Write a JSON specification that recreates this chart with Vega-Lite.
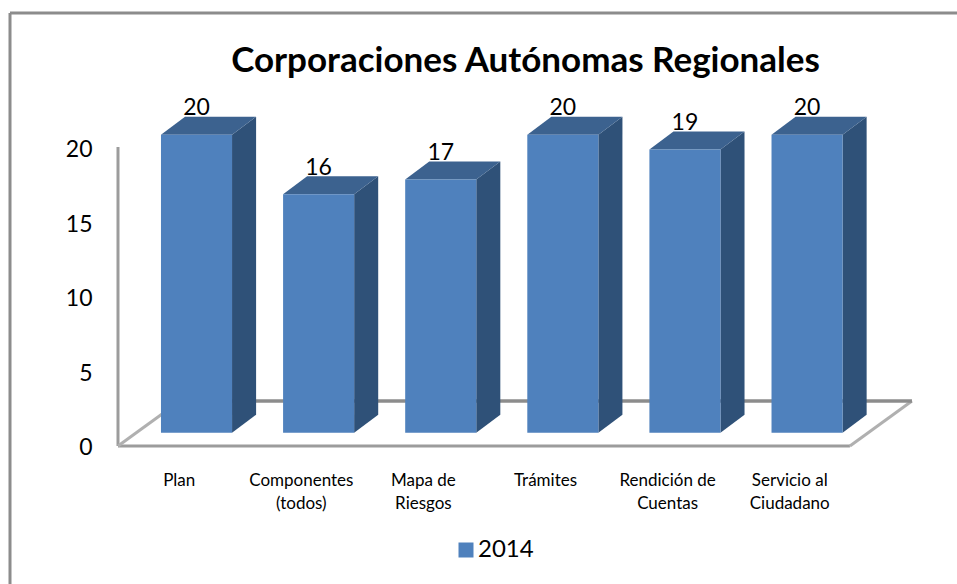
{
"$schema":"https://vega.github.io/schema/vega-lite/v6.json",
"width":947,"height":571,
"autosize":{"type":"none"},
"padding":{"left":10,"top":13,"right":0,"bottom":0},
"background":"white",
"config":{"view":{"stroke":null},"font":"Lato"},
"title":{"text":"Corporaciones Autónomas Regionales","font":"Lato","fontSize":35,"fontWeight":"bold","color":"#000000","anchor":"middle","dx":42,"dy":42,"offset":-60,"baseline":"bottom"},
"datasets":{
"bars":[
{"categoria":"Plan","serie":"2014","valor":20,"pos":1,"izq":0.709,"der":1.291,"base":0.893,"tope":20.893},
{"categoria":"Componentes (todos)","serie":"2014","valor":16,"pos":2,"izq":1.709,"der":2.291,"base":0.893,"tope":16.893},
{"categoria":"Mapa de Riesgos","serie":"2014","valor":17,"pos":3,"izq":2.709,"der":3.291,"base":0.893,"tope":17.893},
{"categoria":"Trámites","serie":"2014","valor":20,"pos":4,"izq":3.709,"der":4.291,"base":0.893,"tope":20.893},
{"categoria":"Rendición de Cuentas","serie":"2014","valor":19,"pos":5,"izq":4.709,"der":5.291,"base":0.893,"tope":19.893},
{"categoria":"Servicio al Ciudadano","serie":"2014","valor":20,"pos":6,"izq":5.709,"der":6.291,"base":0.893,"tope":20.893}
],
"lados":[
{"b":1,"x":1.291,"a":0.893,"c":20.893},{"b":1,"x":1.488,"a":2.101,"c":22.101},
{"b":2,"x":2.291,"a":0.893,"c":16.893},{"b":2,"x":2.488,"a":2.101,"c":18.101},
{"b":3,"x":3.291,"a":0.893,"c":17.893},{"b":3,"x":3.488,"a":2.101,"c":19.101},
{"b":4,"x":4.291,"a":0.893,"c":20.893},{"b":4,"x":4.488,"a":2.101,"c":22.101},
{"b":5,"x":5.291,"a":0.893,"c":19.893},{"b":5,"x":5.488,"a":2.101,"c":21.101},
{"b":6,"x":6.291,"a":0.893,"c":20.893},{"b":6,"x":6.488,"a":2.101,"c":22.101}
],
"techos":[
{"b":1,"x":0.709,"a":20.893,"c":20.893},{"b":1,"x":0.906,"a":20.893,"c":22.101},{"b":1,"x":1.291,"a":20.893,"c":22.101},{"b":1,"x":1.488,"a":22.101,"c":22.101},
{"b":2,"x":1.709,"a":16.893,"c":16.893},{"b":2,"x":1.906,"a":16.893,"c":18.101},{"b":2,"x":2.291,"a":16.893,"c":18.101},{"b":2,"x":2.488,"a":18.101,"c":18.101},
{"b":3,"x":2.709,"a":17.893,"c":17.893},{"b":3,"x":2.906,"a":17.893,"c":19.101},{"b":3,"x":3.291,"a":17.893,"c":19.101},{"b":3,"x":3.488,"a":19.101,"c":19.101},
{"b":4,"x":3.709,"a":20.893,"c":20.893},{"b":4,"x":3.906,"a":20.893,"c":22.101},{"b":4,"x":4.291,"a":20.893,"c":22.101},{"b":4,"x":4.488,"a":22.101,"c":22.101},
{"b":5,"x":4.709,"a":19.893,"c":19.893},{"b":5,"x":4.906,"a":19.893,"c":21.101},{"b":5,"x":5.291,"a":19.893,"c":21.101},{"b":5,"x":5.488,"a":21.101,"c":21.101},
{"b":6,"x":5.709,"a":20.893,"c":20.893},{"b":6,"x":5.906,"a":20.893,"c":22.101},{"b":6,"x":6.291,"a":20.893,"c":22.101},{"b":6,"x":6.488,"a":22.101,"c":22.101}
]
},
"layer":[
{"data":{"values":[
{"x":0.357,"x2":0.357,"y":0,"y2":20.07},
{"x":0.357,"x2":6.351,"y":0,"y2":0}
]},
"mark":{"type":"rule","color":"#9c9c9c","strokeWidth":3},
"encoding":{
"x":{"field":"x","type":"quantitative","scale":{"domain":[-0.5274,7.228],"nice":false,"zero":false},
"axis":{"values":[0.854,1.854,2.854,3.854,4.854,5.854],"title":null,"domain":false,"ticks":false,"grid":false,"orient":"bottom","offset":-112,"labelPadding":0,"labelFont":"Lato","labelFontSize":17,"labelColor":"#000000","labelBaseline":"top","labelLineHeight":23,"labelOverlap":false,"labelBound":false,"labelFlush":false,"labelAngle":0,
"labelExpr":"['Plan',['Componentes','(todos)'],['Mapa de','Riesgos'],'Trámites',['Rendición de','Cuentas'],['Servicio al','Ciudadano']][round(datum.value-0.854)]"}},
"x2":{"field":"x2"},
"y":{"field":"y","type":"quantitative","scale":{"domain":[-9.262,29.06],"nice":false,"zero":false},
"axis":{"values":[0,5,10,15,20],"title":null,"domain":false,"ticks":false,"grid":false,"orient":"left","offset":-82,"labelPadding":0,"labelOffset":2,"labelFont":"Lato","labelFontSize":23,"labelColor":"#000000","format":"d"}},
"y2":{"field":"y2"}
}},
{"data":{"values":[
{"x":0.357,"x2":0.865,"y":0,"y2":3.02},
{"x":6.351,"x2":6.859,"y":0,"y2":3.02}
]},
"mark":{"type":"rule","color":"#b0b0b0","strokeWidth":3},
"encoding":{"x":{"field":"x","type":"quantitative"},"x2":{"field":"x2"},"y":{"field":"y","type":"quantitative"},"y2":{"field":"y2"}}},
{"data":{"values":[{"x":0.865,"x2":6.859,"y":3.02,"y2":3.02}]},
"mark":{"type":"rule","color":"#8c8c8c","strokeWidth":3.5},
"encoding":{"x":{"field":"x","type":"quantitative"},"x2":{"field":"x2"},"y":{"field":"y","type":"quantitative"},"y2":{"field":"y2"}}},
{"data":{"values":[{"lim":-0.5274}]},
"mark":{"type":"rule","color":"#8c8c8c","strokeWidth":3},
"encoding":{"x":{"field":"lim","type":"quantitative"}}},
{"data":{"values":[{"lim":29.06}]},
"mark":{"type":"rule","color":"#8c8c8c","strokeWidth":3},
"encoding":{"y":{"field":"lim","type":"quantitative"}}},
{"data":{"name":"lados"},
"mark":{"type":"area","color":"#2f5178","interpolate":"linear"},
"encoding":{"x":{"field":"x","type":"quantitative"},"y":{"field":"a","type":"quantitative"},"y2":{"field":"c"},"detail":{"field":"b"}}},
{"data":{"name":"techos"},
"mark":{"type":"area","color":"#3c628f","interpolate":"linear"},
"encoding":{"x":{"field":"x","type":"quantitative"},"y":{"field":"a","type":"quantitative"},"y2":{"field":"c"},"detail":{"field":"b"}}},
{"data":{"name":"bars"},
"mark":{"type":"rect"},
"encoding":{"x":{"field":"izq","type":"quantitative"},"x2":{"field":"der"},"y":{"field":"base","type":"quantitative"},"y2":{"field":"tope"},
"color":{"field":"serie","type":"nominal","scale":{"domain":["2014"],"range":["#4f81bd"]},
"legend":{"title":null,"orient":"none","legendX":444,"legendY":525,"symbolType":"square","symbolSize":225,"symbolStrokeWidth":0,"labelFont":"Lato","labelFontSize":24,"labelColor":"#000000","labelOffset":0}}}},
{"data":{"name":"bars"},
"mark":{"type":"text","font":"Lato","fontSize":23,"color":"#000000","dy":-40,"baseline":"middle","align":"center"},
"encoding":{"x":{"field":"pos","type":"quantitative"},"y":{"field":"valor","type":"quantitative"},"text":{"field":"valor","type":"quantitative"}}}
]
}
